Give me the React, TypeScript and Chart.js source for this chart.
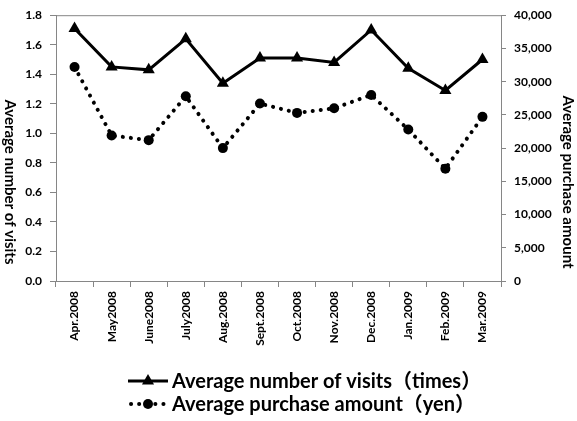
import { useEffect, useRef } from "react";
import { Chart, registerables } from "chart.js";

Chart.register(...registerables);

const months = [
  "Apr.2008", "May2008", "June2008", "July2008", "Aug.2008", "Sept.2008",
  "Oct.2008", "Nov.2008", "Dec.2008", "Jan.2009", "Feb.2009", "Mar.2009",
];
const visits = [1.71, 1.45, 1.43, 1.64, 1.34, 1.51, 1.51, 1.48, 1.7, 1.44, 1.29, 1.5];
const purchase = [32200, 21900, 21200, 27800, 20000, 26700, 25300, 26000, 28000, 22800, 16900, 24700];

const visitsLabel = "Average number of visits（times）";
const purchaseLabel = "Average purchase amount（yen）";
const leftTitle = "Average number of visits";
const rightTitle = "Average purchase amount";

const FONT = "Lato, 'Noto Sans CJK JP', sans-serif";
const AXIS = "#868686";

// Axis titles (both read top-to-bottom), top frame line and the two-row legend
const decor = {
  id: "decor",
  afterDraw(chart: any) {
    const { ctx, chartArea: a } = chart;
    ctx.save();
    ctx.strokeStyle = AXIS;
    ctx.lineWidth = 1;
    ctx.beginPath();
    ctx.moveTo(a.left, a.top + 0.5);
    ctx.lineTo(a.right, a.top + 0.5);
    ctx.stroke();

    ctx.fillStyle = "#000";
    ctx.font = `bold 15px ${FONT}`;
    ctx.textAlign = "center";
    ctx.textBaseline = "middle";
    ctx.save();
    ctx.translate(10, 182);
    ctx.rotate(Math.PI / 2);
    ctx.fillText(leftTitle, 0, 0);
    ctx.restore();
    ctx.save();
    ctx.translate(568, 182);
    ctx.rotate(Math.PI / 2);
    ctx.fillText(rightTitle, 0, 0);
    ctx.restore();

    // legend rows
    const rows = [381, 404];
    chart.data.datasets.forEach((ds: any, i: number) => {
      const y = rows[i];
      ctx.save();
      ctx.strokeStyle = "#000";
      ctx.lineWidth = ds.borderWidth;
      ctx.lineCap = ds.borderCapStyle || "butt";
      ctx.setLineDash(ds.borderDash || []);
      ctx.beginPath();
      if (ds.borderDash) {
        ctx.moveTo(131, y);
        ctx.lineTo(168, y);
      } else {
        ctx.moveTo(128, y);
        ctx.lineTo(168, y);
      }
      ctx.stroke();
      ctx.setLineDash([]);
      ctx.fillStyle = "#000";
      ctx.beginPath();
      if (ds.pointStyle === "triangle") {
        const r = ds.pointRadius;
        ctx.moveTo(148, y - r);
        ctx.lineTo(148 + r * 0.866, y + r * 0.5);
        ctx.lineTo(148 - r * 0.866, y + r * 0.5);
        ctx.closePath();
      } else {
        ctx.arc(148, y, ds.pointRadius, 0, Math.PI * 2);
      }
      ctx.fill();
      ctx.font = `bold 20px ${FONT}`;
      ctx.textAlign = "left";
      ctx.textBaseline = "middle";
      ctx.fillText(ds.label, 172, y + 1);
      ctx.restore();
    });
    ctx.restore();
  },
};

export default function App() {
  const ref = useRef<HTMLCanvasElement>(null);

  useEffect(() => {
    document.body.style.margin = "0";
    const tickFont = { family: FONT, size: 12, weight: "bold" as const };
    const chart = new Chart(ref.current!, {
      type: "line",
      data: {
        labels: months,
        datasets: [
          {
            label: visitsLabel,
            data: visits,
            yAxisID: "y",
            borderColor: "#000",
            backgroundColor: "#000",
            borderWidth: 3,
            pointStyle: "triangle",
            pointRadius: 7,
            pointBorderWidth: 0,
            tension: 0,
          },
          {
            label: purchaseLabel,
            data: purchase,
            yAxisID: "y1",
            borderColor: "#000",
            backgroundColor: "#000",
            borderWidth: 4,
            borderDash: [0.1, 8],
            borderCapStyle: "round",
            pointStyle: "circle",
            pointRadius: 5,
            pointBorderWidth: 0,
            tension: 0,
          },
        ],
      },
      options: {
        animation: false,
        responsive: false,
        layout: { padding: { top: 10, bottom: 70 } },
        plugins: { legend: { display: false }, tooltip: { enabled: false } },
        scales: {
          x: {
            offset: true,
            grid: { offset: true, drawOnChartArea: false, color: AXIS, tickLength: 6 },
            border: { color: AXIS },
            ticks: { color: "#000", font: tickFont, maxRotation: 90, minRotation: 90, padding: 4 },
            afterFit: (s: any) => { s.height = 70; },
          },
          y: {
            position: "left",
            min: 0,
            max: 1.8,
            grid: { drawOnChartArea: false, color: AXIS, tickLength: 6 },
            border: { color: AXIS },
            ticks: {
              stepSize: 0.2,
              color: "#000",
              font: tickFont,
              padding: 8,
              callback: (v: any) => Number(v).toFixed(1),
            },
            afterFit: (s: any) => { s.width = 56; },
          },
          y1: {
            position: "right",
            min: 0,
            max: 40000,
            grid: { drawOnChartArea: false, color: AXIS, tickLength: 5 },
            border: { color: AXIS },
            ticks: {
              stepSize: 5000,
              color: "#000",
              font: tickFont,
              padding: 8,
              callback: (v: any) => Number(v).toLocaleString("en-US"),
            },
            afterFit: (s: any) => { s.width = 76; },
          },
        },
      },
      plugins: [decor],
    });
    return () => chart.destroy();
  }, []);

  return (
    <div style={{ width: 577, height: 421 }}>
      <canvas ref={ref} width={577} height={421} />
    </div>
  );
}
